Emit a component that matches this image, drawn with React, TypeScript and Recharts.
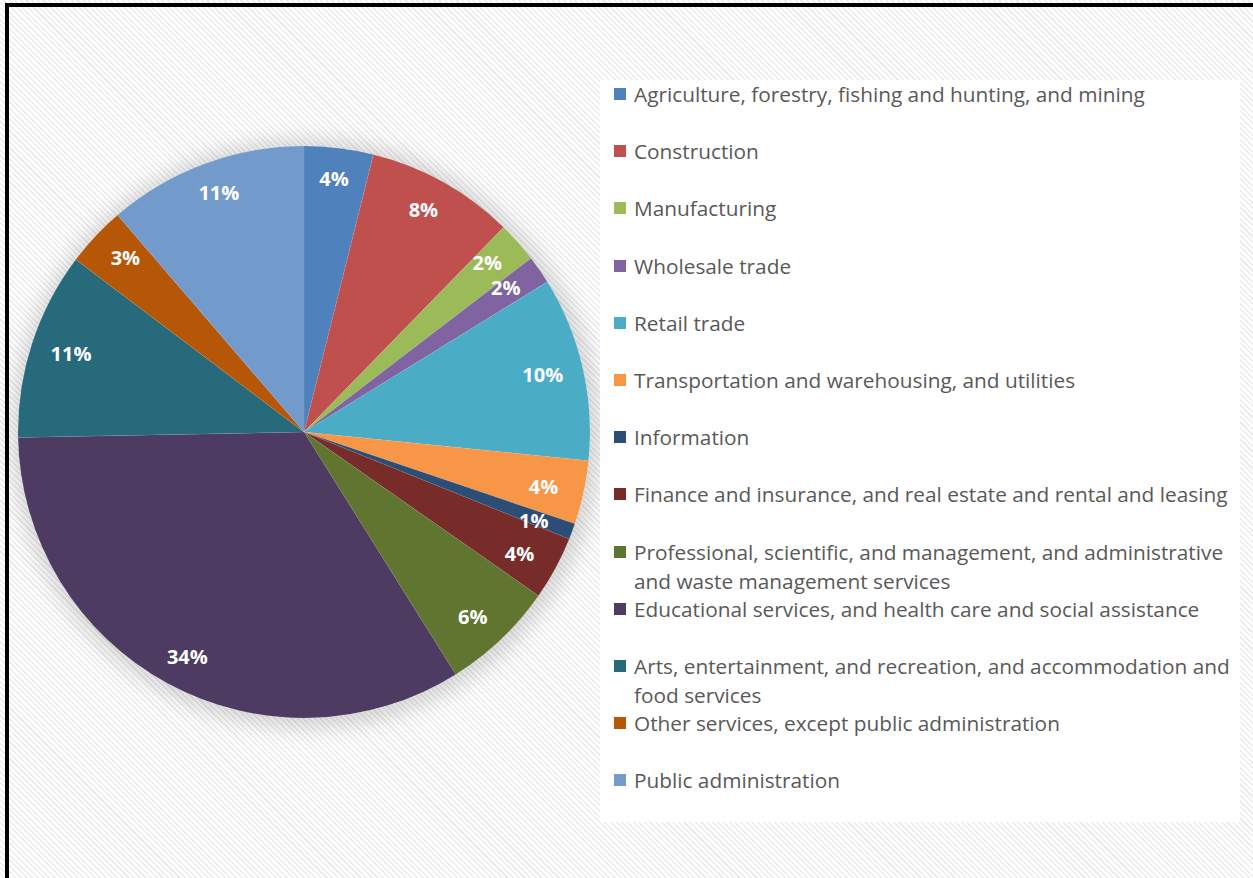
import { Cell, Legend, Pie, PieChart } from "recharts";

const INDUSTRIES = [
  "Agriculture, forestry, fishing and hunting, and mining",
  "Construction",
  "Manufacturing",
  "Wholesale trade",
  "Retail trade",
  "Transportation and warehousing, and utilities",
  "Information",
  "Finance and insurance, and real estate and rental and leasing",
  "Professional, scientific, and management, and administrative and waste management services",
  "Educational services, and health care and social assistance",
  "Arts, entertainment, and recreation, and accommodation and food services",
  "Other services, except public administration",
  "Public administration",
];

// share of employed population, percent
const SHARES = [3.9, 8.4, 2.3, 1.6, 10.4, 3.6, 0.9, 3.6, 6.4, 33.6, 10.6, 3.4, 11.3];

const COLORS = [
  "#4F81BD",
  "#C0504D",
  "#9BBB59",
  "#8064A2",
  "#4BACC6",
  "#F79646",
  "#2C4D75",
  "#772C2A",
  "#5F7530",
  "#4D3B62",
  "#276A7C",
  "#B65708",
  "#729ACA",
];

const FONT = "'Open Sans', 'DejaVu Sans', sans-serif";
const RADIAN = Math.PI / 180;

const chartData = INDUSTRIES.map((name, i) => ({ name, value: SHARES[i] }));

// labels sit a bit inside the rim, a touch wider vertically than horizontally
const renderLabel = ({ cx, cy, midAngle, percent }: any) => {
  const x = cx + 245 * Math.cos(-midAngle * RADIAN);
  const y = cy + 255 * Math.sin(-midAngle * RADIAN);
  return (
    <text
      x={x}
      y={y}
      fill="#fff"
      textAnchor="middle"
      dominantBaseline="central"
      fontFamily={FONT}
      fontWeight={700}
      fontSize={20}
    >
      {`${Math.round((percent ?? 0) * 100)}%`}
    </text>
  );
};

const LegendBox = () => (
  <div
    style={{
      width: 640,
      height: 742,
      background: "rgba(255,255,255,0.92)",
      fontFamily: FONT,
      fontSize: 20.8,
      color: "#595959",
    }}
  >
    {INDUSTRIES.map((name, i) => (
      <div
        key={name}
        style={{
          position: "relative",
          height: 57.2,
          lineHeight: "29px",
          paddingLeft: 34,
          paddingRight: 2,
          boxSizing: "border-box",
        }}
      >
        <span
          style={{
            position: "absolute",
            left: 14,
            top: 8,
            width: 12,
            height: 12,
            background: COLORS[i],
          }}
        />
        {name}
      </div>
    ))}
  </div>
);

export default function App() {
  return (
    <div
      style={{
        position: "absolute",
        left: 0,
        top: 0,
        width: 1253,
        height: 878,
        overflow: "hidden",
        background:
          "repeating-linear-gradient(45deg, #ffffff 0px, #ffffff 2.5px, #ececec 2.5px, #ececec 4px)",
      }}
    >
      <div
        style={{
          position: "absolute",
          left: 5,
          top: 3,
          width: 1260,
          height: 890,
          borderLeft: "4px solid #000",
          borderTop: "4px solid #000",
        }}
      />
      <div
        style={{
          position: "absolute",
          left: 304 - 286,
          top: 432 - 286,
          width: 572,
          height: 572,
          borderRadius: "50%",
          boxShadow: "2px 2px 20px 9px rgba(0,0,0,0.15)",
        }}
      />
      <div style={{ position: "absolute", left: 0, top: 0 }}>
        <PieChart
          width={1253}
          height={878}
          margin={{ top: 0, right: 0, bottom: 0, left: 0 }}
        >
          <Pie
            data={chartData}
            dataKey="value"
            nameKey="name"
            cx={304}
            cy={432}
            outerRadius={286}
            startAngle={90}
            endAngle={-270}
            stroke="rgba(255,255,255,0.12)"
            strokeWidth={0.5}
            label={renderLabel}
            labelLine={false}
            isAnimationActive={false}
          >
            {chartData.map((_, index) => (
              <Cell key={index} fill={COLORS[index % COLORS.length]} />
            ))}
          </Pie>
          <Legend
            content={() => <LegendBox />}
            wrapperStyle={{ left: 600, top: 80, width: 640, height: 742 }}
          />
        </PieChart>
      </div>
    </div>
  );
}
